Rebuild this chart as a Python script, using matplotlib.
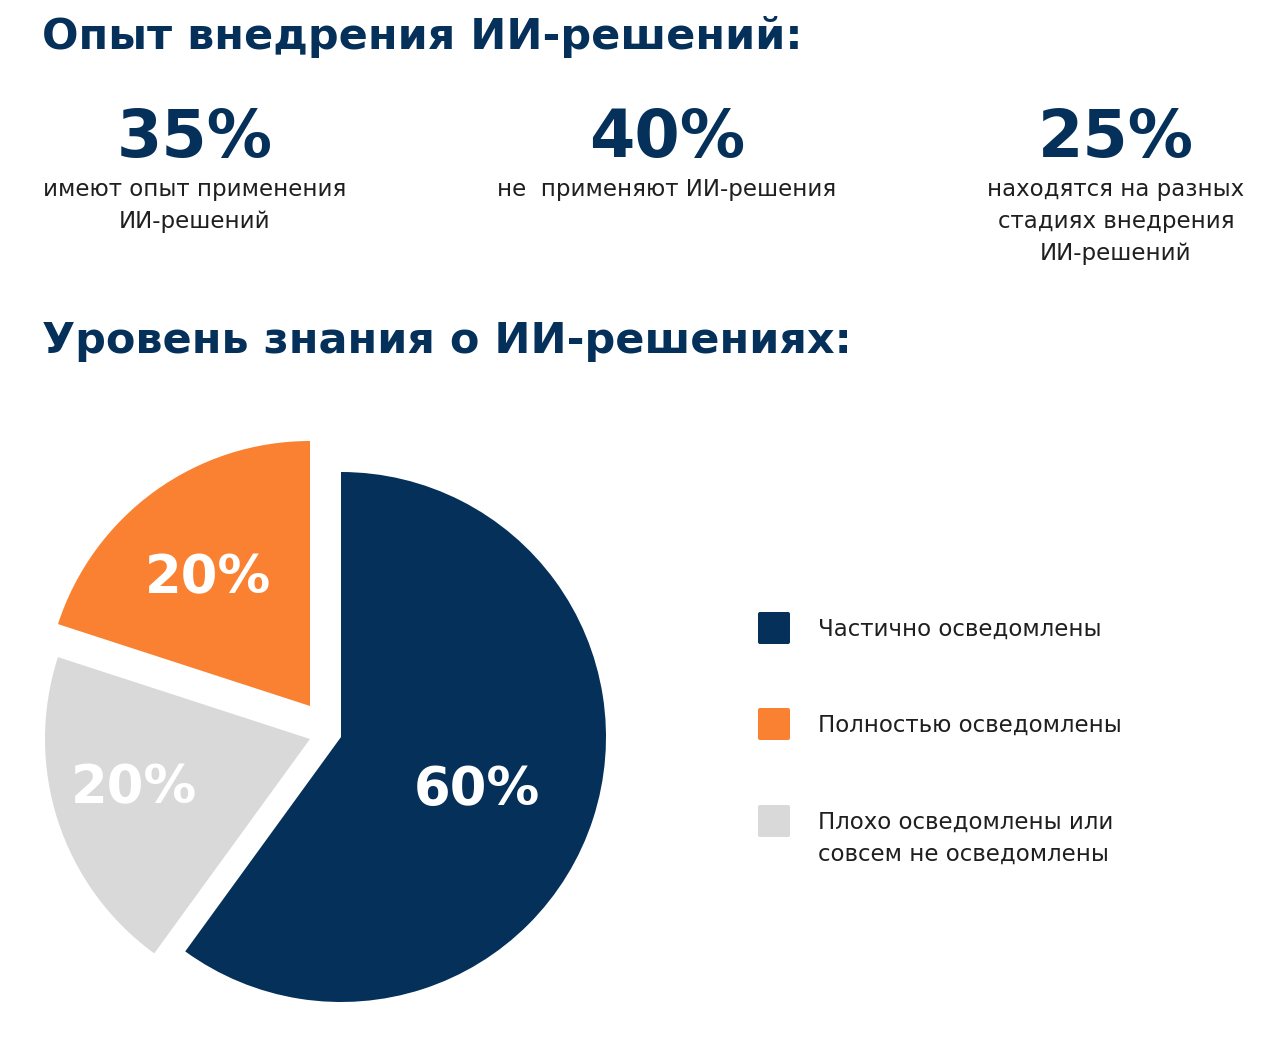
import matplotlib.pyplot as plt
from matplotlib.patches import FancyBboxPatch

W, H = 1280, 1048

navy = '#04305A'
orange = '#FB8132'
grey = '#D9D9D9'
ink = '#1F1F1F'

title_top = 'Опыт внедрения ИИ-решений:'
title_mid = 'Уровень знания о ИИ-решениях:'

stat_values = ['35%', '40%', '25%']
stat_texts = [['имеют опыт применения', 'ИИ-решений'],
              ['не  применяют ИИ-решения'],
              ['находятся на разных', 'стадиях внедрения', 'ИИ-решений']]
stat_x = [195, 667, 1116]

# legend order
categories = [['Частично осведомлены'],
              ['Полностью осведомлены'],
              ['Плохо осведомлены или', 'совсем не осведомлены']]
shares = [60, 20, 20]
colors = [navy, orange, grey]
pie_order = [0, 2, 1]  # clockwise from top: navy, grey, orange

plt.rcParams['font.family'] = ['DejaVu Sans']

fig = plt.figure(figsize=(W / 100, H / 100), dpi=100)
ax = fig.add_axes([0, 0, 1, 1])


def Y(y):
    return H - y


# titles
ax.text(42, Y(49), title_top, fontsize=31, fontweight='bold', color=navy,
        ha='left', va='baseline')
ax.text(42, Y(353), title_mid, fontsize=31, fontweight='bold', color=navy,
        ha='left', va='baseline')

# stats
for x, v, lines in zip(stat_x, stat_values, stat_texts):
    ax.text(x, Y(157), v, fontsize=47, fontweight='bold', color=navy,
            ha='center', va='baseline')
    for i, line in enumerate(lines):
        ax.text(x, Y(196 + 32 * i), line, fontsize=16.5, color=ink,
                ha='center', va='baseline')

# pie
cx, cy, r = 341, Y(737), 265
wedges, _ = ax.pie([shares[i] for i in pie_order],
                   colors=[colors[i] for i in pie_order],
                   startangle=90, counterclock=False, radius=r,
                   center=(cx, cy), frame=True)
ax.set_xlim(0, W)
ax.set_ylim(0, H)
ax.set_aspect('equal')
ax.axis('off')
# manual shift of the two small slices
wedges[1].set_center((310, Y(739)))   # grey
wedges[2].set_center((310, Y(706)))   # orange

pie_labels = [(477, 790), (208, 578), (134, 788)]  # navy, orange, grey
for (lx, ly), s in zip(pie_labels, shares):
    ax.text(lx, Y(ly), f'{s}%', fontsize=38, fontweight='bold', color='white',
            ha='center', va='center')

# legend
leg_y = [628, 724, 821]
for ly, col, lines in zip(leg_y, colors, categories):
    ax.add_patch(FancyBboxPatch((758, Y(ly + 16)), 32, 32,
                                boxstyle='round,pad=0,rounding_size=2',
                                fc=col, ec='none'))
    for i, line in enumerate(lines):
        ax.text(818, Y(ly + 8 + 32 * i), line, fontsize=16.5, color=ink,
                ha='left', va='baseline')

fig.savefig('out.png', dpi=100, facecolor='white')
